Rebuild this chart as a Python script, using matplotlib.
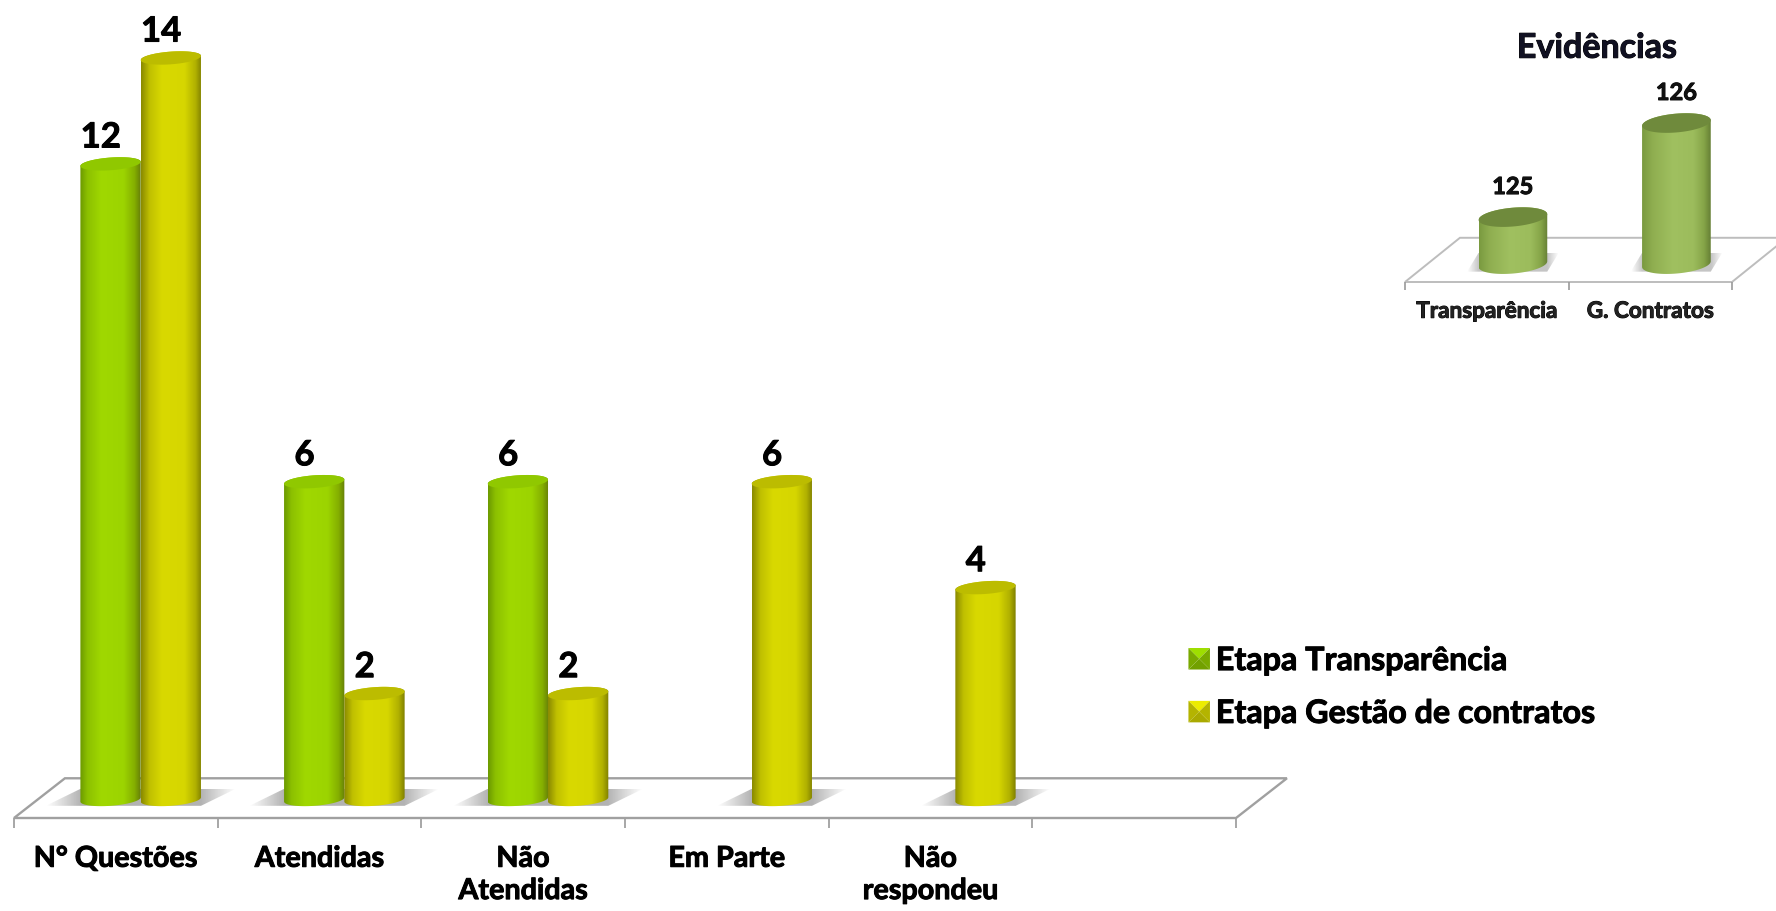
import numpy as np
import matplotlib
matplotlib.use('Agg')
import matplotlib.pyplot as plt
import matplotlib.patheffects as pe
from matplotlib.colors import LinearSegmentedColormap
from matplotlib.legend_handler import HandlerPatch
from matplotlib.patches import Patch, Polygon

categories = ['N° Questões', 'Atendidas', 'Não\nAtendidas', 'Em Parte', 'Não\nrespondeu', '']
transparencia = [12, 6, 6, None, None, None]
contratos = [14, 2, 2, 6, 4, None]
series_names = ['Etapa Transparência', 'Etapa Gestão de contratos']

inset_title = 'Evidências'
inset_categories = ['Transparência', 'G. Contratos']
inset_values = [125, 126]

W, H = 1776, 911
plt.rcParams['font.family'] = ['Lato', 'DejaVu Sans']
plt.rcParams['font.weight'] = 'bold'

green_ramp = [(0, '#6c9a00'), (0.12, '#8cc000'), (0.35, '#a0d800'), (0.72, '#9cd400'),
              (0.9, '#84ae00'), (1, '#667f08')]
yellow_ramp = [(0, '#8a8a00'), (0.14, '#c0c000'), (0.35, '#d9d900'), (0.72, '#d6d600'),
               (0.9, '#b0b000'), (1, '#7f7f00')]
olive_ramp = [(0, '#7a9a40'), (0.15, '#8fae50'), (0.45, '#a0c060'), (0.75, '#9cbc5c'),
              (0.9, '#86a548'), (1, '#668035')]
green_top = '#90c800'
yellow_top = '#bcbc00'
olive_top = '#6f8a3c'
heavy = [pe.withStroke(linewidth=0.7, foreground='black')]


def px_axes(fig, left, right, top, bottom):
    return fig.add_axes([left / W, 1 - bottom / H, (right - left) / W, (bottom - top) / H])


def ellipse_pts(xc, yc, rx, ry, tilt, t0, t1):
    t = np.linspace(t0, t1, 60)
    return np.column_stack([xc + rx * np.cos(t), yc + ry * np.sin(t) + tilt * np.cos(t)])


def draw_cylinder(ax, xc, width, top, base, ramp, top_color, ry, tilt):
    rx = width / 2
    lower = ellipse_pts(xc, base, rx, ry, tilt, np.pi, 2 * np.pi)
    upper = ellipse_pts(xc, top, rx, ry, tilt, 0, np.pi)
    body = Polygon(np.vstack([lower, upper]), transform=ax.transData)
    cmap = LinearSegmentedColormap.from_list('cyl', ramp)
    grad = np.linspace(0, 1, 128).reshape(1, -1)
    im = ax.imshow(grad, cmap=cmap, aspect='auto', zorder=3, interpolation='bilinear',
                   extent=[xc - rx, xc + rx, base - ry * 2, top + ry * 2])
    im.set_clip_path(body)
    cap = ellipse_pts(xc, top, rx, ry, tilt, 0, 2 * np.pi)
    ax.add_patch(Polygon(cap, facecolor=top_color, edgecolor='none', zorder=4))


def draw_shadow(ax, x0, x1, ext, y_low, y_high, alpha=0.6):
    quad = Polygon([(x0 - ext, y_low), (x1, y_low), (x1 + ext, y_high), (x0, y_high)],
                   transform=ax.transData)
    n = 128
    rgba = np.zeros((1, n, 4))
    rgba[..., :3] = 0.5
    xs = np.linspace(x0 - ext, x1 + ext, n)
    rgba[0, :, 3] = alpha * np.clip(np.minimum(xs - (x0 - ext), (x1 + ext) - xs) / ext, 0, 1)
    im = ax.imshow(rgba, aspect='auto', zorder=2, extent=[x0 - ext, x1 + ext, y_low, y_high])
    im.set_clip_path(quad)


def draw_floor(ax, n, front, back, skew, color, lw):
    pts = [(0, front), (n, front), (n + skew, back), (skew, back)]
    ax.add_patch(Polygon(pts, closed=True, facecolor='white', edgecolor=color,
                         linewidth=lw, zorder=1, clip_on=False))


class BevelHandler(HandlerPatch):
    def create_artists(self, legend, orig_handle, xdescent, ydescent, width, height,
                       fontsize, trans):
        base = orig_handle.get_facecolor()
        x0, y0 = -xdescent, -ydescent
        x1, y1 = x0 + height, y0 + height
        xm, ym = (x0 + x1) / 2, (y0 + y1) / 2
        shades = [1.18, 0.85, 0.9, 0.9]
        tris = [[(x0, y1), (x1, y1), (xm, ym)], [(x0, y0), (x1, y0), (xm, ym)],
                [(x0, y0), (x0, y1), (xm, ym)], [(x1, y0), (x1, y1), (xm, ym)]]
        out = []
        for tri, s in zip(tris, shades):
            col = np.clip(np.array(base[:3]) * s, 0, 1)
            out.append(Polygon(tri, facecolor=col, edgecolor='none', transform=trans))
        return out


fig = plt.figure(figsize=(W / 100, H / 100), dpi=100)

# main chart
ax = px_axes(fig, 14, 1236, 5, 818)
n_cat = len(categories)
front_y, back_y = -0.35, 0.4
draw_floor(ax, n_cat, front_y, back_y, 0.25, '#a0a0a0', 1.7)

bar_w = 0.296
shift = 0.122
for i in range(n_cat):
    xs = []
    if transparencia[i] is not None:
        xs.append(i + 0.5 + shift - bar_w / 2)
    if contratos[i] is not None:
        xs.append(i + 0.5 + shift + bar_w / 2)
    if xs:
        draw_shadow(ax, min(xs) - bar_w / 2, max(xs) + bar_w / 2, 0.17, -0.12, 0.2)

for i in range(n_cat):
    for val, side, ramp, cap in [(transparencia[i], -1, green_ramp, green_top),
                                 (contratos[i], 1, yellow_ramp, yellow_top)]:
        if val is None:
            continue
        xc = i + 0.5 + shift + side * bar_w / 2
        draw_cylinder(ax, xc, bar_w, val, 0, ramp, cap, 0.12, 0.04)
        ax.annotate(str(val), (xc, val), xytext=(-7, 19), textcoords='offset points',
                    ha='center', va='center', fontsize=25, color='black',
                    annotation_clip=False, zorder=5, path_effects=heavy)

ax.set_xlim(0, n_cat)
ax.set_ylim(front_y, 15)
ax.set_xticks(np.arange(n_cat) + 0.5)
ax.set_xticklabels(categories, fontsize=20.7, color='black', linespacing=1.3, path_effects=heavy)
ax.set_xticks(np.arange(n_cat + 1), minor=True)
ax.tick_params(axis='x', which='major', length=0, pad=20)
ax.tick_params(axis='x', which='minor', length=7, width=1.3, color='#a0a0a0')
ax.set_yticks([])
for sp in ax.spines.values():
    sp.set_visible(False)
ax.patch.set_alpha(0)

handles = [Patch(facecolor='#86bc00', label=series_names[0]),
           Patch(facecolor='#c8c800', label=series_names[1])]
leg = fig.legend(handles=handles, loc='center left', frameon=False, fontsize=23.2,
                 bbox_to_anchor=(1182 / W, 1 - 687 / H), handlelength=0.65, handleheight=0.65,
                 handletextpad=0.2, labelspacing=0.74, borderpad=0.2, borderaxespad=0,
                 handler_map={Patch: BevelHandler()})
for t in leg.get_texts():
    t.set_path_effects(heavy)

# inset chart
inset = px_axes(fig, 1405, 1732, 76, 282)
inset_front, inset_back = 124.31, 124.78
draw_floor(inset, len(inset_categories), inset_front, inset_back, 0.336, '#bdbdbd', 1.4)
for i, val in enumerate(inset_values):
    xc = i + 0.5 + 0.16
    draw_shadow(inset, xc - 0.21, xc + 0.21, 0.07, 124.42, 124.62, alpha=0.45)
    draw_cylinder(inset, xc, 0.42, val, 124.5, olive_ramp, olive_top, 0.1, 0.03)
    inset.annotate(str(val), (xc, val), xytext=(0, 22), textcoords='offset points',
                   ha='center', va='center', fontsize=17, color='#111111',
                   annotation_clip=False, zorder=5, path_effects=heavy)
inset.text(1.174, 126.8, inset_title, ha='center', va='center', fontsize=24.5,
           color='#111122', clip_on=False, path_effects=heavy)
inset.set_xlim(0, len(inset_categories))
inset.set_ylim(inset_front, 126.5)
inset.set_xticks(np.arange(len(inset_categories)) + 0.5)
inset.set_xticklabels(inset_categories, fontsize=16.2, color='#222222', path_effects=heavy)
inset.set_xticks(np.arange(len(inset_categories) + 1), minor=True)
inset.tick_params(axis='x', which='major', length=0, pad=13.5)
inset.tick_params(axis='x', which='minor', length=6, width=1.2, color='#9a9a9a')
inset.set_yticks([])
for sp in inset.spines.values():
    sp.set_visible(False)
inset.patch.set_alpha(0)

fig.savefig('out.png', dpi=100)
